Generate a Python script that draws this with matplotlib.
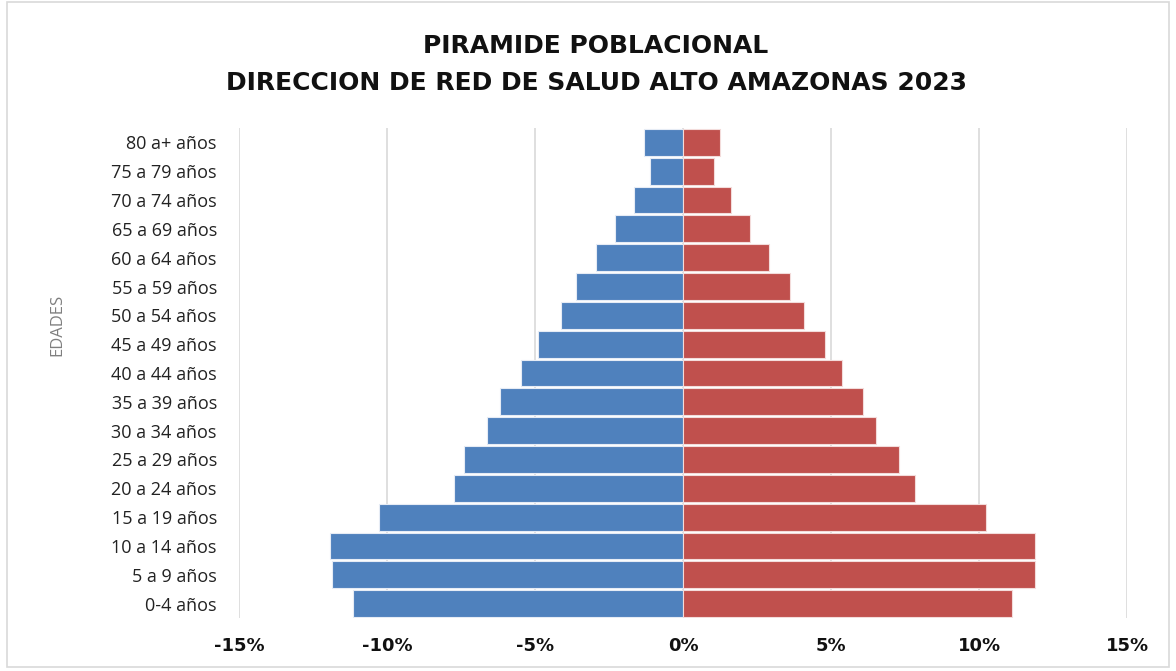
import matplotlib
matplotlib.use("Agg")
import matplotlib.pyplot as plt
from matplotlib.patches import Rectangle
from matplotlib.ticker import FuncFormatter

age_groups = ["0-4 años", "5 a 9 años", "10 a 14 años", "15 a 19 años", "20 a 24 años",
              "25 a 29 años", "30 a 34 años", "35 a 39 años", "40 a 44 años", "45 a 49 años",
              "50 a 54 años", "55 a 59 años", "60 a 64 años", "65 a 69 años", "70 a 74 años",
              "75 a 79 años", "80 a+ años"]
hombres = [11.15, 11.87, 11.93, 10.27, 7.74, 7.40, 6.62, 6.18, 5.47, 4.90,
           4.12, 3.61, 2.95, 2.31, 1.67, 1.10, 1.32]
mujeres = [11.11, 11.90, 11.90, 10.24, 7.84, 7.30, 6.52, 6.08, 5.37, 4.80,
           4.09, 3.60, 2.90, 2.27, 1.62, 1.05, 1.24]
x_ticks = [-15, -10, -5, 0, 5, 10, 15]

plt.rcParams['font.family'] = ['Open Sans', 'DejaVu Sans']

fig = plt.figure(figsize=(11.76, 6.71), dpi=100)
fig.patches.append(Rectangle((7/1176, 4/671), 1 - 14/1176, 1 - 6/671,
                             transform=fig.transFigure, fill=False,
                             edgecolor='#D9D9D9', linewidth=1.2))
ax = fig.add_axes([239/1176, 1 - 618/671, (1127 - 239)/1176, (618 - 128)/671])

ypos = list(range(len(age_groups)))
ax.barh(ypos, [-v for v in hombres], height=0.93, color='#4F81BD',
        edgecolor='#E6ECF5', linewidth=0.8, zorder=2)
ax.barh(ypos, mujeres, height=0.93, color='#C0504D',
        edgecolor='#F3DCDB', linewidth=0.8, zorder=2)

ax.set_xlim(-15, 15)
ax.set_ylim(-0.5, len(age_groups) - 0.5)
ax.set_xticks(x_ticks)
ax.xaxis.set_major_formatter(FuncFormatter(lambda v, p: f"{int(round(v))}%"))
ax.set_yticks(ypos)
ax.set_yticklabels(age_groups)
ax.grid(axis='x', color='#D9D9D9', linewidth=1.2, zorder=0)
ax.set_axisbelow(True)
for s in ax.spines.values():
    s.set_visible(False)
ax.tick_params(axis='y', length=0, pad=16, labelsize=13, labelcolor='#222222')
ax.tick_params(axis='x', length=0, pad=14, labelsize=12.5, labelcolor='#111111')
for lbl in ax.get_xticklabels():
    lbl.set_fontweight('bold')
    lbl.set_family(['DejaVu Sans'])
    lbl.set_fontsize(13)

fig.text(57/1176, 1 - 325/671, "EDADES", rotation=90, ha='center', va='center',
         fontsize=12, color='#7F7F7F')

fig.text(596/1176, 1 - 46/671, "PIRAMIDE POBLACIONAL", ha='center', va='center',
         fontsize=18, fontweight='bold', color='#111111', family=['DejaVu Sans'])
fig.text(596/1176, 1 - 83/671, "DIRECCION DE RED DE SALUD ALTO AMAZONAS 2023",
         ha='center', va='center', fontsize=18, fontweight='bold', color='#111111',
         family=['DejaVu Sans'])

fig.savefig("out.png", dpi=100)
